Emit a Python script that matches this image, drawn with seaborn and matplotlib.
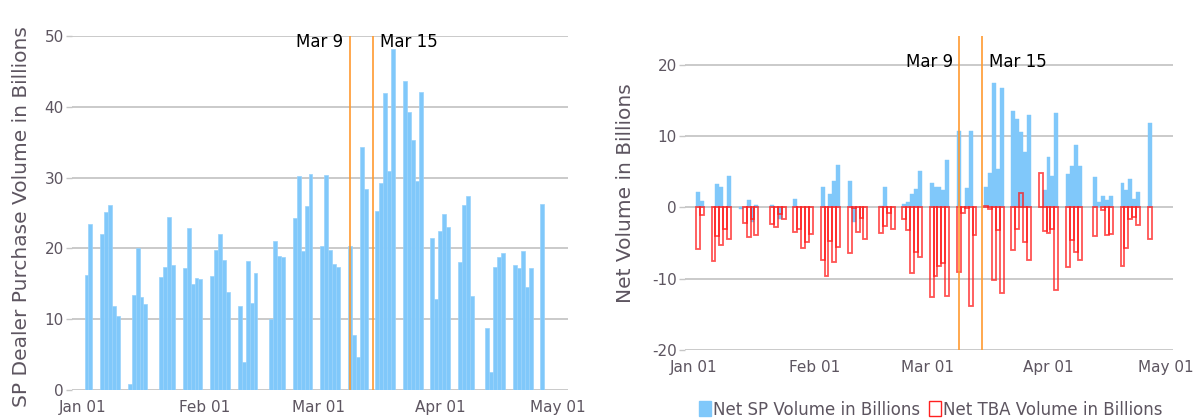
import numpy as np
import pandas as pd
import matplotlib
matplotlib.use("Agg")
import matplotlib.pyplot as plt
import matplotlib.dates as mdates
from matplotlib.patches import Patch
import seaborn as sns

# ---------------- data ----------------
dates = [
    "2020-01-02", "2020-01-03",
    "2020-01-06", "2020-01-07", "2020-01-08", "2020-01-09", "2020-01-10",
    "2020-01-13", "2020-01-14", "2020-01-15", "2020-01-16", "2020-01-17",
    "2020-01-21", "2020-01-22", "2020-01-23", "2020-01-24",
    "2020-01-27", "2020-01-28", "2020-01-29", "2020-01-30", "2020-01-31",
    "2020-02-03", "2020-02-04", "2020-02-05", "2020-02-06", "2020-02-07",
    "2020-02-10", "2020-02-11", "2020-02-12", "2020-02-13", "2020-02-14",
    "2020-02-18", "2020-02-19", "2020-02-20", "2020-02-21",
    "2020-02-24", "2020-02-25", "2020-02-26", "2020-02-27", "2020-02-28",
    "2020-03-02", "2020-03-03", "2020-03-04", "2020-03-05", "2020-03-06",
    "2020-03-09", "2020-03-10", "2020-03-11", "2020-03-12", "2020-03-13",
    "2020-03-16", "2020-03-17", "2020-03-18", "2020-03-19", "2020-03-20",
    "2020-03-23", "2020-03-24", "2020-03-25", "2020-03-26", "2020-03-27",
    "2020-03-30", "2020-03-31", "2020-04-01", "2020-04-02", "2020-04-03",
    "2020-04-06", "2020-04-07", "2020-04-08", "2020-04-09",
    "2020-04-13", "2020-04-14", "2020-04-15", "2020-04-16", "2020-04-17",
    "2020-04-20", "2020-04-21", "2020-04-22", "2020-04-23", "2020-04-24",
    "2020-04-27",
]

sp_purchase = [
    16.3, 23.4,
    22.1, 25.1, 26.1, 11.9, 10.4,
    0.85, 13.4, 20.1, 13.1, 12.1,
    15.9, 17.4, 24.4, 17.7,
    17.3, 22.9, 15.0, 15.8, 15.7,
    16.1, 19.8, 22.1, 18.4, 13.8,
    11.9, 3.9, 18.2, 12.3, 16.5,
    10.0, 21.0, 18.9, 18.8,
    24.3, 30.2, 19.6, 26.0, 30.5,
    20.3, 30.4, 19.8, 17.8, 17.4,
    20.3, 7.8, 4.7, 34.3, 28.4,
    25.3, 29.2, 41.9, 30.9, 48.2,
    43.6, 39.3, 35.3, 29.5, 42.1,
    21.5, 12.9, 22.5, 24.9, 23.0,
    18.1, 26.1, 27.4, 13.3,
    8.8, 2.6, 17.4, 18.8, 19.3,
    17.7, 17.3, 19.7, 14.5, 17.3,
    26.3,
]

net_sp = [
    2.1, 0.9,
    0.0, 3.3, 2.85, 0.0, 4.4,
    -0.3, 0.0, 1.0, -2.1, 0.3,
    0.3, 0.0, -1.6, 0.0,
    1.2, 0.0, 0.0, 0.0, 0.0,
    2.85, 0.0, 1.9, 3.7, 5.9,
    3.7, -2.0, 0.0, 0.0, 0.0,
    0.15, 2.85, 0.0, 0.0,
    0.45, 0.75, 1.9, 2.6, 5.1,
    3.4, 2.85, 2.85, 2.4, 6.6,
    10.7, 0.0, 2.7, 10.7, 0.0,
    2.85, 4.8, 17.4, 5.4, 16.7,
    13.5, 12.4, 10.55, 7.75, 12.9,
    0.0, 2.4, 7.05, 4.4, 13.2,
    4.7, 5.8, 8.7, 5.8,
    4.25, 0.75, 1.6, 1.0, 1.6,
    3.4, 2.4, 4.0, 1.2, 2.15,
    11.8,
]

net_tba = [
    -5.9, -1.1,
    -7.5, -4.0, -5.25, -3.0, -4.5,
    0.0, -2.2, -4.2, -1.6, -3.9,
    -2.3, -2.7, -1.0, -1.6,
    -3.5, -3.0, -5.7, -4.8, -3.7,
    -7.4, -9.6, -4.7, -7.6, -5.6,
    -6.4, -0.1, -3.4, -1.5, -4.5,
    -3.55, -2.6, -0.85, -3.1,
    -1.7, -3.2, -9.25, -6.2, -6.9,
    -12.55, -9.65, -8.2, -7.85, -12.5,
    -9.05, -0.8, -0.05, -13.9, -3.95,
    0.15, -0.2, -10.2, -3.2, -12.05,
    -6.0, -3.05, 1.95, -4.9, -7.4,
    4.85, -3.3, -3.6, -3.0, -11.6,
    -8.4, -4.6, -6.3, -7.4,
    -4.05, 0.0, -0.4, -3.9, -3.8,
    -8.2, -5.7, -1.6, -1.35, -2.5,
    -4.45,
]

event_dates = ["2020-03-09", "2020-03-15"]
event_labels = ["Mar 9", "Mar 15"]

left_ylabel = "SP Dealer Purchase Volume in Billions"
right_ylabel = "Net Volume in Billions"
legend_labels = ["Net SP Volume in Billions", "Net TBA Volume in Billions"]

# ---------------- style ----------------
sns.set_theme(style="white")
plt.rcParams["font.family"] = ["DejaVu Sans"]
plt.rcParams["axes.unicode_minus"] = False

TXT = "#5d5560"
GRID = "#c6c6c6"
BLUE = "#80c8fa"
BLUE_EDGE = "#99d2fb"
RED = "#ff2020"
ORANGE = "#ff9a30"
TICK_FS = 11
LABEL_FS = 14.5
ANN_FS = 12

dnum = mdates.date2num(pd.to_datetime(dates))
df = pd.DataFrame({"d": dnum, "sp": sp_purchase, "nsp": net_sp, "tba": net_tba})

fig = plt.figure(figsize=(11.95, 4.19), dpi=100)
axL = fig.add_axes([0.0603, 0.0692, 0.415, 0.845])
axR = fig.add_axes([0.5732, 0.1647, 0.4085, 0.7493])


def style_axis(ax):
    for s in ax.spines.values():
        s.set_visible(False)
    ax.set_axisbelow(True)
    ax.grid(axis="y", color=GRID, linewidth=1.3)
    ax.grid(axis="x", visible=False)
    ax.xaxis.set_major_locator(mdates.MonthLocator())
    ax.xaxis.set_major_formatter(mdates.DateFormatter("%b %d"))
    ax.tick_params(axis="x", length=0, pad=7, labelsize=TICK_FS, labelcolor=TXT)
    ax.tick_params(axis="y", left=True, length=4, width=1, color=GRID,
                   pad=2, labelsize=TICK_FS, labelcolor=TXT)
    ax.set_xlabel("")


# ---------- left panel ----------
sns.barplot(data=df, x="d", y="sp", native_scale=True, orient="x",
            width=1.0, color=BLUE, saturation=1, errorbar=None,
            edgecolor=BLUE_EDGE, linewidth=0.5, ax=axL)
style_axis(axL)
axL.set_xlim(mdates.date2num(pd.Timestamp("2019-12-29 08:00")),
             mdates.date2num(pd.Timestamp("2020-05-03 12:00")))
axL.set_ylim(0, 50)
axL.set_yticks([0, 10, 20, 30, 40, 50])
axL.set_ylabel(left_ylabel, fontsize=LABEL_FS, color=TXT)
axL.yaxis.set_label_coords(-0.083, 0.49)

# ---------- right panel ----------
df_sp = df[df["nsp"] != 0]
df_tba = df[df["tba"] != 0]
sns.barplot(data=df_sp, x="d", y="nsp", native_scale=True, orient="x",
            width=1.0, color=BLUE, saturation=1, errorbar=None,
            edgecolor=BLUE, linewidth=0.3, ax=axR)
sns.barplot(data=df_tba, x="d", y="tba", native_scale=True, orient="x",
            width=1.0, color=RED, saturation=1, errorbar=None, fill=False,
            linewidth=1.3, ax=axR)
for p in axR.patches[len(df_sp):]:
    p.set_edgecolor((1.0, 0.1, 0.1, 0.75))
    p.set_facecolor("none")
style_axis(axR)
axR.set_xlim(mdates.date2num(pd.Timestamp("2019-12-29 16:00")),
             mdates.date2num(pd.Timestamp("2020-05-03 00:00")))
axR.set_ylim(-20, 24)
axR.set_yticks([-20, -10, 0, 10, 20])
axR.set_yticklabels(["-20", "-10", "0", "10", "20"])
axR.set_ylabel(right_ylabel, fontsize=LABEL_FS, color=TXT)
axR.yaxis.set_label_coords(-0.102, 0.5)

# ---------- event lines ----------
for ax, ytxt in ((axL, 49.2), (axR, 20.3)):
    for i, (ed, lab) in enumerate(zip(event_dates, event_labels)):
        xv = mdates.date2num(pd.Timestamp(ed))
        ax.axvline(xv, color=ORANGE, linewidth=1.2, zorder=3)
        if i == 0:
            ax.annotate(lab, (xv, ytxt), xytext=(-4.5, 0), textcoords="offset points",
                        ha="right", va="center", fontsize=ANN_FS, color="black")
        else:
            ax.annotate(lab, (xv, ytxt), xytext=(4.5, 0), textcoords="offset points",
                        ha="left", va="center", fontsize=ANN_FS, color="black")

# ---------- legend ----------
handles = [Patch(facecolor=BLUE, edgecolor=BLUE, label=legend_labels[0]),
           Patch(facecolor="white", edgecolor=RED, linewidth=1.0, label=legend_labels[1])]
fig.legend(handles=handles, loc="lower center", bbox_to_anchor=(0.779, -0.035),
           ncol=2, frameon=False, fontsize=12, handlelength=0.7, handleheight=1.0,
           handletextpad=0.15, columnspacing=0.5, labelcolor=TXT)

fig.savefig("out.png", dpi=100)
